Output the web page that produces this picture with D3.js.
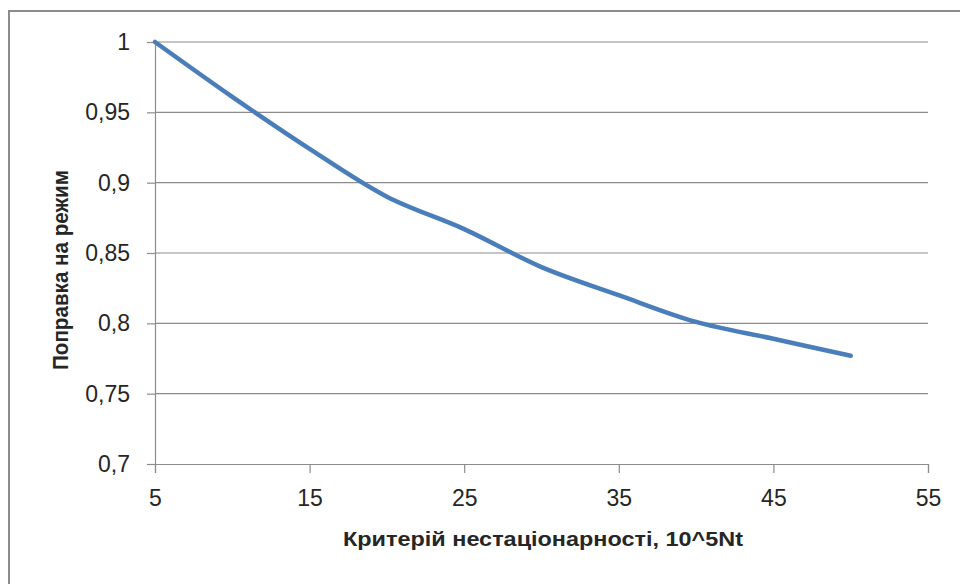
<!DOCTYPE html>
<html>
<head>
<meta charset="utf-8">
<script src="https://cdn.jsdelivr.net/npm/d3@7"></script>
<style>
  html, body { margin: 0; padding: 0; background: #fff; }
  svg { display: block; }
  text { font-family: "Liberation Sans", Arial, sans-serif; fill: #262626; }
</style>
</head>
<body>
<svg id="chart" width="960" height="584"></svg>
<script>
// Non-stationarity criterion (10^5·Nt) and the regime correction factor
const criterion = [5, 10, 15, 20, 25, 30, 35, 40, 45, 50];
const correction = [1.0, 0.961, 0.924, 0.890, 0.867, 0.840, 0.820, 0.801, 0.789, 0.777];
const xTicks = [5, 15, 25, 35, 45, 55];
const yTicks = [0.7, 0.75, 0.8, 0.85, 0.9, 0.95, 1];
const xTitle = "Критерій нестаціонарності, 10^5Nt";
const yTitle = "Поправка на режим";

const svg = d3.select("#chart");
const plot = { left: 155, right: 928, top: 42, bottom: 464 };

const x = d3.scaleLinear().domain([5, 55]).range([plot.left, plot.right]);
const y = d3.scaleLinear().domain([0.7, 1]).range([plot.bottom, plot.top]);
const fmt = v => String(+v.toFixed(2)).replace(".", ",");

// outer chart frame
svg.append("rect")
  .attr("x", 9).attr("y", 11)
  .attr("width", 1200).attr("height", 1200)
  .attr("fill", "none").attr("stroke", "#8c8c8c").attr("stroke-width", 2);

// horizontal gridlines
svg.append("g")
  .selectAll("line")
  .data(yTicks.filter(v => v > 0.7))
  .join("line")
  .attr("x1", plot.left).attr("x2", plot.right)
  .attr("y1", d => y(d)).attr("y2", d => y(d))
  .attr("stroke", "#8c8c8c").attr("stroke-width", 1.2);

// y axis
const yAxis = svg.append("g")
  .attr("transform", `translate(${plot.left},0)`)
  .call(d3.axisLeft(y).tickValues(yTicks).tickFormat(fmt).tickSize(8).tickPadding(17));
yAxis.select(".domain").attr("stroke", "#8c8c8c").attr("stroke-width", 1.2);
yAxis.selectAll(".tick line").attr("stroke", "#8c8c8c").attr("stroke-width", 1.2);
yAxis.selectAll(".tick text")
  .style("font-size", "23px").style("fill", "#262626");

// x axis
const xAxis = svg.append("g")
  .attr("transform", `translate(0,${plot.bottom})`)
  .call(d3.axisBottom(x).tickValues(xTicks).tickFormat(d3.format("d")).tickSize(9).tickPadding(17));
xAxis.select(".domain").attr("stroke", "#8c8c8c").attr("stroke-width", 1.2);
xAxis.selectAll(".tick line").attr("stroke", "#8c8c8c").attr("stroke-width", 1.2);
xAxis.selectAll(".tick text")
  .style("font-size", "23px").style("fill", "#262626");

// data curve
const line = d3.line()
  .x((d, i) => x(criterion[i]))
  .y(d => y(d))
  .curve(d3.curveCatmullRom.alpha(0.5));

svg.append("path")
  .datum(correction)
  .attr("d", line)
  .attr("fill", "none")
  .attr("stroke", "#4a7ebb")
  .attr("stroke-width", 4.5)
  .attr("stroke-linecap", "round")
  .attr("stroke-linejoin", "round");

// axis titles
svg.append("text")
  .attr("x", 543).attr("y", 546)
  .attr("text-anchor", "middle")
  .style("font-size", "21px").style("font-weight", "bold")
  .attr("textLength", 400).attr("lengthAdjust", "spacingAndGlyphs")
  .text(xTitle);

svg.append("text")
  .attr("transform", "translate(68,270) rotate(-90)")
  .attr("text-anchor", "middle")
  .style("font-size", "22px").style("font-weight", "bold")
  .attr("textLength", 200).attr("lengthAdjust", "spacingAndGlyphs")
  .text(yTitle);
</script>
</body>
</html>
